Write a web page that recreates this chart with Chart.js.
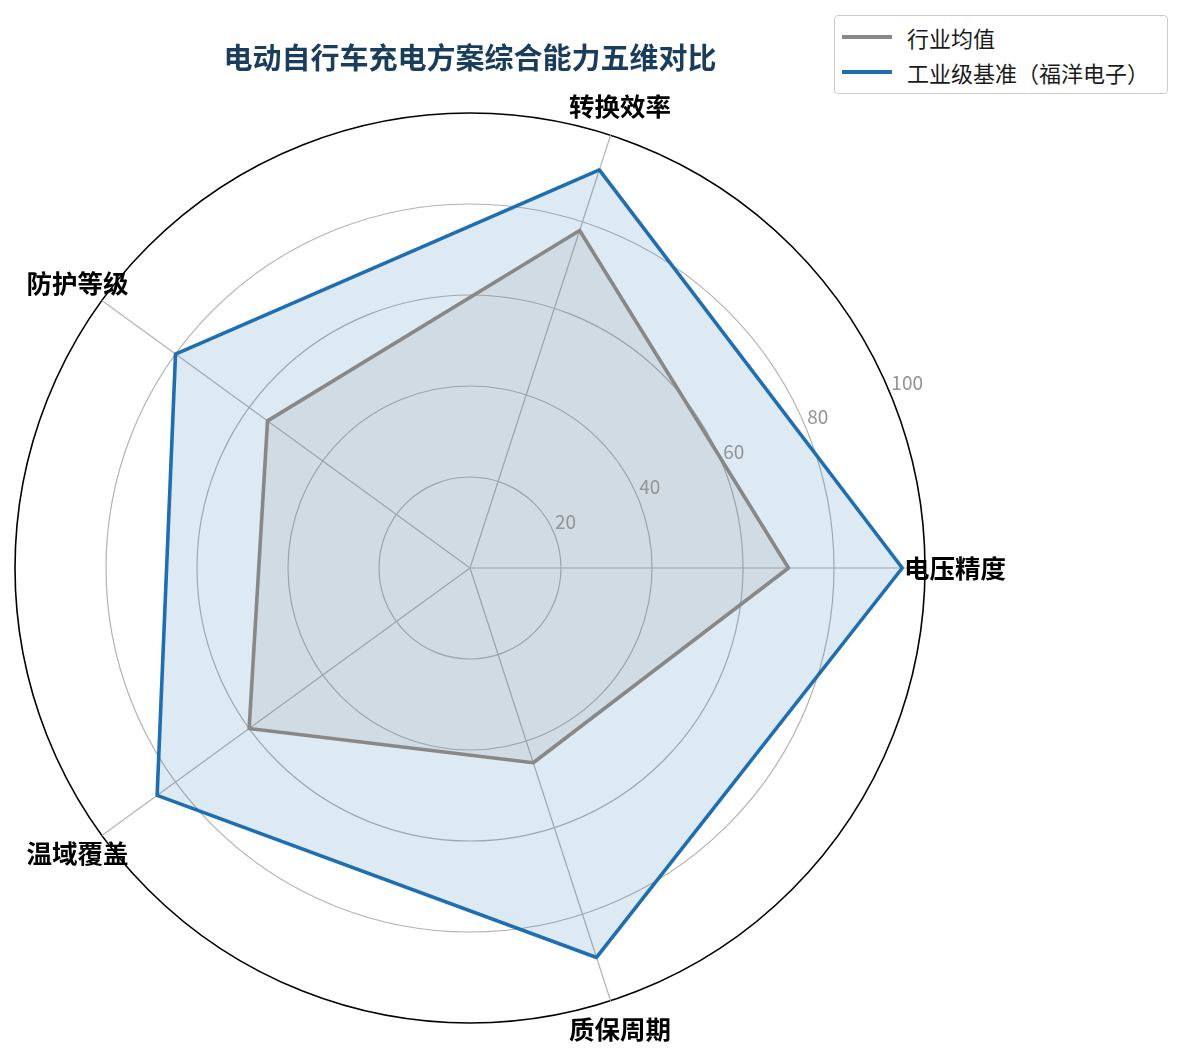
<!DOCTYPE html>
<html>
<head>
<meta charset="utf-8">
<script src="https://cdn.jsdelivr.net/npm/chart.js@4.4.1/dist/chart.umd.min.js"></script>
<style>
  html, body { margin: 0; padding: 0; background: #fff; }
  #wrap { position: relative; width: 1184px; height: 1058px; font-family: "Noto Sans CJK SC", "Noto Sans", sans-serif; }
  #c { position: absolute; left: 0; top: 0; }
  #title { position: absolute; left: 170px; width: 600px; top: 36px; text-align: center; font-size: 29px; line-height: 40px; font-weight: 700; color: #1b3d5c; }
  #legend { position: absolute; left: 834px; top: 15px; width: 334px; height: 79px; border: 1.5px solid #cccccc; border-radius: 4px; background: #fff; box-sizing: border-box; }
  .item { position: absolute; left: 0; height: 30px; width: 330px; }
  .item .sw { position: absolute; left: 7px; width: 50px; height: 3.5px; top: 13px; }
  .item .tx { position: absolute; left: 72px; top: 0; font-size: 22px; line-height: 30px; color: #1a1a1a; white-space: nowrap; }
</style>
</head>
<body>
<div id="wrap">
  <canvas id="c" width="1184" height="1058"></canvas>
  <div id="title">电动自行车充电方案综合能力五维对比</div>
  <div id="legend">
    <div class="item" style="top:6px"><div class="sw" style="background:#888888"></div><div class="tx">行业均值</div></div>
    <div class="item" style="top:41px"><div class="sw" style="background:#1f6fb0"></div><div class="tx">工业级基准（福洋电子）</div></div>
  </div>
</div>
<script>
// Categories listed clockwise starting from the east (right) axis
const categories = ['电压精度', '质保周期', '温域覆盖', '防护等级', '转换效率'];
const industryAvg = [70, 45, 60, 55, 78];
const industrialBenchmark = [95, 90, 85, 80, 92];
const tickValues = [20, 40, 60, 80, 100];
const seriesNames = ['行业均值', '工业级基准（福洋电子）'];

const labelPlugin = {
  id: 'customLabels',
  afterDatasetsDraw(chart) {
    const s = chart.scales.r;
    const ctx = chart.ctx;
    ctx.save();
    // radial tick labels at 22.5°
    ctx.font = '19px "Noto Sans CJK SC", "Noto Sans", sans-serif';
    ctx.fillStyle = '#949494';
    ctx.textAlign = 'left';
    ctx.textBaseline = 'bottom';
    const a = 22.5 * Math.PI / 180;
    tickValues.forEach(v => {
      const d = s.getDistanceFromCenterForValue(v);
      ctx.fillText(String(v), s.xCenter + d * Math.cos(a) + 1, s.yCenter - d * Math.sin(a) - 2);
    });
    // category labels
    ctx.font = 'bold 25.5px "Noto Sans CJK SC", "Noto Sans", sans-serif';
    ctx.fillStyle = '#000';
    ctx.textAlign = 'center';
    ctx.textBaseline = 'middle';
    const dl = s.getDistanceFromCenterForValue(106.6);
    categories.forEach((c, i) => {
      const p = s.getPointPosition(i, dl);
      ctx.fillText(c, p.x, p.y);
    });
    ctx.restore();
  }
};

new Chart(document.getElementById('c'), {
  type: 'radar',
  data: {
    labels: categories,
    datasets: [
      {
        label: seriesNames[0],
        data: industryAvg,
        borderColor: '#888888',
        backgroundColor: 'rgba(136,136,136,0.15)',
        borderWidth: 3.6,
        pointRadius: 0,
        fill: true,
        borderJoinStyle: 'round',
        order: 1
      },
      {
        label: seriesNames[1],
        data: industrialBenchmark,
        borderColor: '#1f6fb0',
        backgroundColor: 'rgba(31,111,176,0.15)',
        borderWidth: 3.6,
        pointRadius: 0,
        fill: true,
        borderJoinStyle: 'round',
        order: 2
      }
    ]
  },
  options: {
    responsive: false,
    animation: false,
    devicePixelRatio: 1,
    layout: { padding: { left: 15, right: 259, top: 113, bottom: 35 } },
    plugins: { legend: { display: false }, title: { display: false }, tooltip: { enabled: false } },
    scales: {
      r: {
        min: 0,
        max: 100,
        startAngle: 90,
        ticks: { display: false, stepSize: 20 },
        pointLabels: { display: false },
        angleLines: { color: '#b3b3b3', lineWidth: 1.2 },
        grid: {
          circular: true,
          color: c => (c.tick && c.tick.value === 100) ? '#000000' : '#b3b3b3',
          lineWidth: c => (c.tick && c.tick.value === 100) ? 1.6 : 1.2
        }
      }
    }
  },
  plugins: [labelPlugin]
});
</script>
</body>
</html>
